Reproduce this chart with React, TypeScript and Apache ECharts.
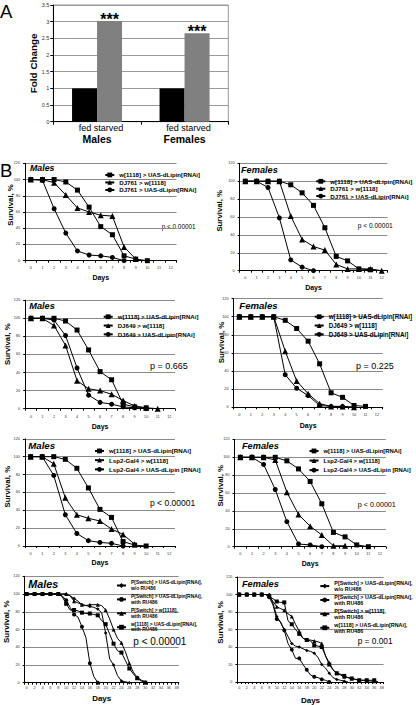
import React, { useEffect, useRef } from "react";
import * as echarts from "echarts";

const FONT = '"Liberation Sans", Arial, Helvetica, sans-serif';

// ---------- Panel A ----------
const foldCategories = ["Males", "Females"];
const fedValues = [1, 1];
const starvedValues = [3.02, 2.65];
const starLabels = ["***", "***"];

// ---------- Panel B tick labels ----------
const days12 = ["0", "1", "2", "3", "4", "5", "6", "7", "8", "9", "10", "11", "12"];
const days38 = [
  "0", "1", "2", "3", "4", "5", "6", "7", "8", "9", "10", "11", "12", "13", "14", "15", "16", "17", "18", "19",
  "20", "21", "22", "23", "24", "25", "26", "27", "28", "29", "30", "31", "32", "33", "34", "35", "36", "37", "38",
];

// ---------- Series names ----------
const nCtrl = "w[1118] > UAS-dLipin[RNAi]";
const nDJ761Gal4 = "DJ761 > w[1118]";
const nDJ761KD = "DJ761 > UAS-dLipin[RNAi]";
const nDJ649Gal4 = "DJ649 > w[1118]";
const nDJ649KD = "DJ649 > UAS-dLipin[RNAi]";
const nLspGal4 = "Lsp2-Gal4 > w[1118]";
const nLspKD = "Lsp2-Gal4 > UAS-dLipin [RNAi]";
const nSwWo = "P[Switch] > UAS-dLipin[RNAi], w/o RU486";
const nSwRu = "P[Switch] > UAS-dLipin[RNAi], with RU486";
const nSwCtrl = "P[Switch] > w[1118], with RU486";
const nCtrlRu = "w[1118] > UAS-dLipin[RNAi], with RU486";

// ---------- Survival values (%) ----------
const dj761MaleCtrl = [100, 100, 100, 97, 87, 66, 42, 32, 6, 2, 0];
const dj761MaleGal4 = [100, 100, 96, 81, 65, 60, 56, 55, 17, 2];
const dj761MaleKD = [100, 99, 64, 34, 12, 7, 6, 4, 0];

const dj761FemaleCtrl = [100, 100, 100, 100, 96, 87, 73, 48, 16, 11, 2, 1];
const dj761FemaleGal4 = [100, 100, 100, 100, 61, 35, 27, 23, 7, 2, 2, 2, 0];
const dj761FemaleKD = [100, 100, 93, 59, 12, 4, 0];

const dj649MaleCtrl = [100, 100, 100, 97, 87, 65, 41, 32, 5, 2, 1];
const dj649MaleGal4 = [100, 100, 92, 70, 31, 22, 20, 16, 9, 3, 1, 0];
const dj649MaleKD = [100, 100, 98, 81, 45, 15, 7, 5, 2, 1, 0];

const dj649FemaleCtrl = [100, 100, 100, 100, 96, 87, 73, 48, 16, 11, 2, 1];
const dj649FemaleGal4 = [100, 100, 100, 100, 62, 29, 15, 4, 1, 1, 0];
const dj649FemaleKD = [100, 100, 100, 100, 36, 21, 13, 2, 1, 1, 0];

const lspMaleCtrl = [100, 100, 100, 97, 87, 65, 41, 32, 5, 1, 0];
const lspMaleGal4 = [100, 100, 92, 54, 35, 31, 28, 19, 13, 2];
const lspMaleKD = [100, 100, 79, 35, 14, 6, 4, 3, 0];

const lspFemaleCtrl = [100, 100, 100, 100, 96, 87, 73, 48, 16, 11, 2, 0];
const lspFemaleGal4 = [100, 100, 100, 97, 61, 36, 23, 13, 1, 1];
const lspFemaleKD = [100, 100, 92, 64, 28, 3, 2, 0];

const swMaleWo = [100, 100, 100, 100, 100, 100, 100, 100, 100, 100, 100, 98, 95, 92, 88, 87, 86, 85, 83, 79, 56, 27, 20, 8, 2, 1, 0];
const swMaleRu = [100, 100, 100, 100, 100, 100, 100, 100, 100, 98, 93, 85, 77, 74, 63, 51, 22, 7, 0];
const swMaleCtrl = [100, 100, 100, 100, 100, 100, 100, 100, 100, 100, 100, 98, 92, 90, 88, 87, 88, 88, 88, 87, 82, 72, 60, 50, 45, 35, 22, 12, 6, 3, 1, 0];
const ctrlMaleRu = [100, 100, 100, 100, 100, 100, 100, 100, 100, 97, 89, 82, 82, 81, 79, 78, 78, 77, 76, 70, 66, 55, 44, 36, 34, 25, 16, 10, 5, 2, 0];

const swFemaleWo = [100, 100, 100, 100, 100, 100, 100, 100, 100, 90, 75, 68, 60, 52, 44, 41, 40, 38, 36, 35, 33, 28, 20, 16, 10, 5, 3, 2, 1, 0];
const swFemaleRu = [100, 100, 100, 100, 100, 100, 100, 100, 97, 88, 72, 69, 59, 44, 37, 27, 27, 20, 14, 8, 6, 5, 3, 2, 0];
const swFemaleCtrl = [100, 100, 100, 100, 100, 100, 100, 100, 98, 92, 86, 84, 82, 78, 75, 66, 58, 50, 48, 48, 47, 46, 44, 30, 22, 14, 10, 8, 6, 5, 4, 3, 2, 2, 2, 1, 1, 0];
const ctrlFemaleRu = [100, 100, 100, 100, 100, 100, 100, 100, 98, 95, 92, 91, 91, 70, 66, 60, 55, 50, 48, 47, 42, 41, 40, 30, 20, 14, 10, 9, 7, 5, 4, 3, 2, 2, 2, 2, 2, 0];

const pValues = ["p < 0.00001", "p < 0.00001", "p = 0.665", "p = 0.225", "p < 0.00001", "p < 0.00001", "p < 0.00001", "p = 0.001"];
const panelTitles = ["Males", "Females", "Males", "Females", "Males", "Females", "Males", "Females"];

type S = { name: string; data: number[]; symbol: string };

const panelSeries: S[][] = [
  [
    { name: nCtrl, data: dj761MaleCtrl, symbol: "rect" },
    { name: nDJ761Gal4, data: dj761MaleGal4, symbol: "triangle" },
    { name: nDJ761KD, data: dj761MaleKD, symbol: "circle" },
  ],
  [
    { name: nCtrl, data: dj761FemaleCtrl, symbol: "rect" },
    { name: nDJ761Gal4, data: dj761FemaleGal4, symbol: "triangle" },
    { name: nDJ761KD, data: dj761FemaleKD, symbol: "circle" },
  ],
  [
    { name: nCtrl, data: dj649MaleCtrl, symbol: "rect" },
    { name: nDJ649Gal4, data: dj649MaleGal4, symbol: "triangle" },
    { name: nDJ649KD, data: dj649MaleKD, symbol: "circle" },
  ],
  [
    { name: nCtrl, data: dj649FemaleCtrl, symbol: "rect" },
    { name: nDJ649Gal4, data: dj649FemaleGal4, symbol: "triangle" },
    { name: nDJ649KD, data: dj649FemaleKD, symbol: "circle" },
  ],
  [
    { name: nCtrl, data: lspMaleCtrl, symbol: "rect" },
    { name: nLspGal4, data: lspMaleGal4, symbol: "triangle" },
    { name: nLspKD, data: lspMaleKD, symbol: "circle" },
  ],
  [
    { name: nCtrl, data: lspFemaleCtrl, symbol: "rect" },
    { name: nLspGal4, data: lspFemaleGal4, symbol: "triangle" },
    { name: nLspKD, data: lspFemaleKD, symbol: "circle" },
  ],
  [
    { name: nSwWo, data: swMaleWo, symbol: "diamond" },
    { name: nSwRu, data: swMaleRu, symbol: "circle" },
    { name: nSwCtrl, data: swMaleCtrl, symbol: "triangle" },
    { name: nCtrlRu, data: ctrlMaleRu, symbol: "rect" },
  ],
  [
    { name: nSwWo, data: swFemaleWo, symbol: "diamond" },
    { name: nSwRu, data: swFemaleRu, symbol: "circle" },
    { name: nSwCtrl, data: swFemaleCtrl, symbol: "triangle" },
    { name: nCtrlRu, data: ctrlFemaleRu, symbol: "rect" },
  ],
];

// ---------- Layout (pixels) ----------
type L = {
  left: number; top: number; width: number; height: number;
  xMargin: number; daysGap: number; daysSize: number;
  yTitleX: number; yTitleY: number;
  titleX: number; titleY: number; titleSize: number;
  pX: number; pY: number; pSize: number;
  legLeft: number; legTop: number; legFont: number; legLine: number; legGap: number;
};

const layouts: L[] = [
  { left: 25, top: 163.3, width: 151.5, height: 97.4, xMargin: 5.5, daysGap: 13.3, daysSize: 7, yTitleX: 10, yTitleY: 205, titleX: 30, titleY: 168, titleSize: 8.8, pX: 161.7, pY: 226.7, pSize: 6.4, legLeft: 104.3, legTop: 171.2, legFont: 6.1, legLine: 7.5, legGap: 0 },
  { left: 239.6, top: 163.3, width: 147.8, height: 107.4, xMargin: 5.5, daysGap: 13, daysSize: 7, yTitleX: 219.3, yTitleY: 210.8, titleX: 241, titleY: 170, titleSize: 9.2, pX: 357.7, pY: 225.3, pSize: 6.6, legLeft: 315.3, legTop: 177.6, legFont: 6.2, legLine: 7.4, legGap: 0 },
  { left: 25.2, top: 300.2, width: 149.8, height: 108.5, xMargin: 6, daysGap: 14.5, daysSize: 7, yTitleX: 7.5, yTitleY: 344.2, titleX: 29.3, titleY: 305.8, titleSize: 9.2, pX: 150, pY: 365.7, pSize: 9, legLeft: 102.7, legTop: 313, legFont: 6.1, legLine: 7.5, legGap: 1.3 },
  { left: 233.6, top: 298.6, width: 149.1, height: 108.7, xMargin: 6, daysGap: 14.2, daysSize: 7, yTitleX: 221, yTitleY: 342.5, titleX: 239.3, titleY: 305.8, titleSize: 9.6, pX: 356, pY: 365.7, pSize: 9, legLeft: 313.7, legTop: 313, legFont: 6.3, legLine: 7.5, legGap: 1.3 },
  { left: 24.9, top: 438.8, width: 150.1, height: 107.2, xMargin: 5.5, daysGap: 13.4, daysSize: 7, yTitleX: 7.5, yTitleY: 486.7, titleX: 28.3, titleY: 445, titleSize: 9.6, pX: 150, pY: 503.3, pSize: 8.5, legLeft: 94, legTop: 447.2, legFont: 6.2, legLine: 7.5, legGap: 1.7 },
  { left: 234.5, top: 439.4, width: 151.3, height: 107.3, xMargin: 5.5, daysGap: 13, daysSize: 7, yTitleX: 220, yTitleY: 485.8, titleX: 242, titleY: 445.8, titleSize: 9.2, pX: 357.7, pY: 504, pSize: 7.2, legLeft: 308.5, legTop: 447.2, legFont: 5.9, legLine: 7.5, legGap: 2.1 },
  { left: 24.7, top: 576.3, width: 154, height: 106.4, xMargin: 3.5, daysGap: 12, daysSize: 8, yTitleX: 6.7, yTitleY: 621.7, titleX: 28.3, titleY: 584, titleSize: 10.8, pX: 133.3, pY: 641.7, pSize: 10, legLeft: 116, legTop: 579.9, legFont: 4.9, legLine: 5.6, legGap: 2.7 },
  { left: 237.4, top: 577, width: 146.2, height: 105.7, xMargin: 3.5, daysGap: 14, daysSize: 8, yTitleX: 220.3, yTitleY: 622.5, titleX: 242, titleY: 583.8, titleSize: 9.2, pX: 357.7, pY: 641, pSize: 8.3, legLeft: 319.3, legTop: 580.4, legFont: 5.4, legLine: 5.7, legGap: 2.5 },
];

function txt(text: string, x: number, y: number, size: number, opts: any = {}) {
  return {
    type: "text",
    x,
    y,
    rotation: opts.rotation || 0,
    silent: true,
    style: {
      text,
      fill: "#000",
      fontSize: size,
      fontWeight: opts.weight || "normal",
      fontStyle: opts.style || "normal",
      fontFamily: FONT,
      align: opts.align || "left",
      verticalAlign: "middle",
      textAlign: opts.align || "left",
      textVerticalAlign: "middle",
    },
  };
}

function buildOption(): any {
  const grid: any[] = [
    { left: 53.3, top: 5, width: 175, height: 116.7, show: true, borderColor: "#999", borderWidth: 1, backgroundColor: "transparent" },
  ];
  const xAxis: any[] = [
    {
      gridIndex: 0,
      type: "category",
      data: foldCategories,
      axisLine: { lineStyle: { color: "#000", width: 1 } },
      axisTick: { show: true, length: 3, lineStyle: { color: "#000" } },
      axisLabel: {
        interval: 0,
        margin: 1,
        formatter: (v: string) => "{a|fed starved}\n{b|" + v + "}",
        rich: {
          a: { fontSize: 9, lineHeight: 10, padding: [0, 0, 0, 8], fontFamily: FONT, color: "#000" },
          b: { fontSize: 10.5, fontWeight: "bold", lineHeight: 12, fontFamily: FONT, color: "#000" },
        },
      },
    },
  ];
  const yAxis: any[] = [
    {
      gridIndex: 0,
      type: "value",
      min: 0,
      max: 3.5,
      interval: 0.5,
      axisLine: { show: true, lineStyle: { color: "#000", width: 1 } },
      axisTick: { show: true, length: 3, lineStyle: { color: "#000" } },
      axisLabel: { fontSize: 5.5, color: "#333", margin: 4, fontFamily: FONT },
      splitLine: { show: true, lineStyle: { color: "#999", width: 1 } },
    },
  ];
  const series: any[] = [
    {
      type: "bar",
      name: "fed",
      xAxisIndex: 0,
      yAxisIndex: 0,
      data: fedValues,
      barWidth: 25,
      barGap: "0%",
      itemStyle: { color: "#000" },
    },
    {
      type: "bar",
      name: "starved",
      xAxisIndex: 0,
      yAxisIndex: 0,
      barWidth: 25,
      barGap: "0%",
      itemStyle: { color: "#808080" },
      data: starvedValues.map((v, i) => ({
        value: v,
        label: {
          show: true,
          position: "top",
          distance: 0,
          offset: [0, 6],
          formatter: starLabels[i],
          fontSize: 16,
          fontWeight: "bold",
          color: "#000",
          fontFamily: FONT,
        },
      })),
    },
  ];
  const legend: any[] = [];
  const graphic: any[] = [
    txt("A", 0, 11, 18.5),
    txt("B", 0, 170, 18.5),
    txt("Fold Change", 33, 63.3, 9.9, { weight: "bold", align: "center", rotation: Math.PI / 2 }),
  ];

  layouts.forEach((l, i) => {
    const gi = i + 1;
    const long = i >= 6;
    grid.push({ left: l.left, top: l.top, width: l.width, height: l.height });
    xAxis.push({
      gridIndex: gi,
      type: "category",
      data: long ? days38 : days12,
      boundaryGap: true,
      axisLine: { lineStyle: { color: "#000", width: 1 } },
      axisTick: { show: true, length: 2, interval: 0, lineStyle: { color: "#000" } },
      axisLabel: { interval: long ? 1 : 0, fontSize: 3.8, color: "#333", margin: l.xMargin, fontFamily: FONT },
      name: "Days",
      nameLocation: "middle",
      nameGap: l.daysGap,
      nameTextStyle: { fontSize: l.daysSize, fontWeight: "bold", color: "#000", fontFamily: FONT },
    });
    yAxis.push({
      gridIndex: gi,
      type: "value",
      min: 0,
      max: 120,
      interval: 20,
      axisLine: { show: true, lineStyle: { color: "#000", width: 1 } },
      axisTick: { show: true, length: 2, lineStyle: { color: "#000" } },
      axisLabel: { fontSize: 3.8, color: "#333", margin: 5, fontFamily: FONT },
      splitLine: { show: true, lineStyle: { color: "#8a8a8a", width: 1 } },
    });
    const ss = panelSeries[i];
    ss.forEach((s) => {
      series.push({
        type: "line",
        name: s.name,
        xAxisIndex: gi,
        yAxisIndex: gi,
        data: s.data,
        symbol: s.symbol,
        symbolSize: long ? (s.symbol === "diamond" ? 3.5 : 4) : s.symbol === "triangle" ? 6 : 5,
        showSymbol: true,
        lineStyle: { color: "#000", width: 1 },
        itemStyle: { color: "#000" },
      });
    });
    legend.push({
      data: ss.map((s) => s.name),
      orient: "vertical",
      left: l.legLeft,
      top: l.legTop,
      padding: 0,
      itemGap: l.legGap,
      itemWidth: 9,
      itemHeight: 6,
      selectedMode: false,
      formatter: long ? (n: string) => n.replace(", ", ",\n") : undefined,
      textStyle: {
        fontSize: l.legFont,
        fontWeight: "bold",
        color: "#000",
        fontFamily: FONT,
        lineHeight: l.legLine,
      },
    });
    graphic.push(txt("Survival, %", l.yTitleX, l.yTitleY, long ? 8 : 7.8, { weight: "bold", align: "center", rotation: Math.PI / 2 }));
    graphic.push(txt(panelTitles[i], l.titleX, l.titleY, l.titleSize, { weight: "bold", style: "italic" }));
    graphic.push(txt(pValues[i], l.pX, l.pY, l.pSize));
  });

  return {
    animation: false,
    backgroundColor: "#fff",
    textStyle: { fontFamily: FONT },
    grid,
    xAxis,
    yAxis,
    series,
    legend,
    graphic,
  };
}

export default function App() {
  const ref = useRef<HTMLDivElement>(null);
  useEffect(() => {
    if (!ref.current) return;
    const chart = echarts.init(ref.current, undefined, { renderer: "svg" });
    chart.setOption(buildOption());
    return () => chart.dispose();
  }, []);
  return (
    <div
      ref={ref}
      style={{ position: "absolute", left: 0, top: 0, width: 416, height: 705, background: "#fff" }}
    />
  );
}
